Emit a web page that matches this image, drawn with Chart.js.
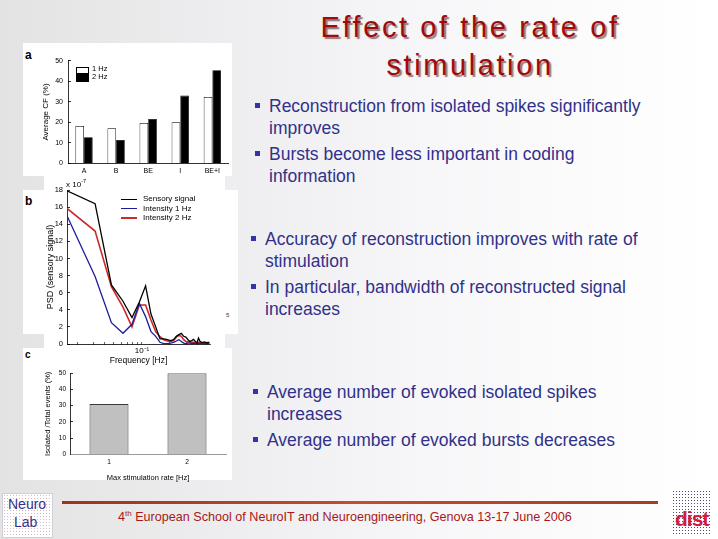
<!DOCTYPE html>
<html>
<head>
<meta charset="utf-8">
<script src="https://cdn.jsdelivr.net/npm/chart.js@4.4.0/dist/chart.umd.min.js"></script>
<style>
  body {
    margin: 0; width: 718px; height: 539px; overflow: hidden; position: relative;
    background: linear-gradient(to right, #e3e3e3 0%, #ededef 30%, #f7f7f9 60%, #ffffff 100%);
    font-family: "Liberation Sans", Arial, sans-serif;
  }
  .box { position: absolute; background: #fff; }
  .txt { position: absolute; white-space: nowrap; }
  canvas { position: absolute; }
  .title {
    position: absolute; left: 240px; top: 8px; width: 460px; text-align: center;
    font-size: 29px; line-height: 38px; letter-spacing: 2.6px; color: #a00a0a;
    text-shadow: 2px 2px 1px rgba(70, 20, 20, 0.55);
  }
  .bullet {
    position: absolute; white-space: nowrap; font-size: 17.5px; line-height: 22px; color: #31318a;
  }
  .bullet::before {
    content: ""; position: absolute; left: -14px; top: 8px; width: 5px; height: 5px; background: #3434a4;
  }
  .lg { position: absolute; font-size: 7.5px; color: #000; white-space: nowrap; }
</style>
</head>
<body>

<!-- white figure panels -->
<div class="box" style="left:23px;top:43px;width:209px;height:133px"></div>
<div class="box" style="left:23px;top:190px;width:215px;height:144px"></div>
<div class="box" style="left:44px;top:175px;width:181px;height:173px"></div>
<div class="box" style="left:23px;top:348px;width:209px;height:132px"></div>

<div class="txt" style="left:25px;top:48px;font-size:12px;font-weight:bold">a</div>
<div class="txt" style="left:25px;top:194px;font-size:12px;font-weight:bold">b</div>
<div class="txt" style="left:25px;top:349px;font-size:10px;font-weight:bold">c</div>

<canvas id="chartA" width="212" height="135" style="left:20px;top:43px"></canvas>
<canvas id="chartB" width="175" height="190" style="left:40px;top:178px"></canvas>
<canvas id="chartC" width="209" height="124" style="left:23px;top:360px"></canvas>

<div class="txt" style="left:66px;top:178px;font-size:8px">x 10<sup style="font-size:5.5px">-7</sup></div>
<div class="txt" style="left:226px;top:312px;font-size:6px;color:#333">5</div>

<div id="legendA"></div>
<div id="legendB"></div>

<!-- title and bullets -->
<div class="title">Effect of the rate of<br>stimulation</div>

<div class="bullet" style="left:269px;top:95px">Reconstruction from isolated spikes significantly<br>improves</div>
<div class="bullet" style="left:269px;top:143px">Bursts become less important in coding<br>information</div>
<div class="bullet" style="left:265px;top:228px">Accuracy of reconstruction improves with rate of<br>stimulation</div>
<div class="bullet" style="left:265px;top:276px">In particular, bandwidth of reconstructed signal<br>increases</div>
<div class="bullet" style="left:267px;top:381px">Average number of evoked isolated spikes<br>increases</div>
<div class="bullet" style="left:267px;top:429px">Average number of evoked bursts decreases</div>

<!-- footer -->
<div style="position:absolute;left:62px;top:501px;width:596px;height:3px;background:linear-gradient(to right,#9c3322,#c44c32,#a83a26)"></div>
<div class="txt" style="left:118px;top:509px;font-size:12.6px;color:#a81818">4<sup style="font-size:8px">th</sup> European School of NeuroIT and Neuroengineering, Genova 13-17 June 2006</div>

<div style="position:absolute;left:2px;top:493px;width:49px;height:43px;border:1px solid #cfcfd8;
  background:#fff radial-gradient(circle, #d9b7c6 0.8px, transparent 1px) 0 0/3px 3px"></div>
<div class="txt" style="left:8px;top:496px;font-size:14px;color:#34348a">Neuro</div>
<div class="txt" style="left:14px;top:514px;font-size:14px;color:#34348a">Lab</div>

<div style="position:absolute;left:672px;top:490px;width:40px;height:44px;
  background:#fff radial-gradient(circle, #4a4a7a 0.7px, transparent 0.9px) 0 0/3px 3px"></div>
<div class="txt" style="left:675px;top:507px;font-size:21px;font-weight:bold;color:#d21c3c;letter-spacing:-1px">dist</div>

<script>
// panel a: average CF per class
const classesA = ["A", "B", "BE", "I", "BE+I"];
const cf1Hz = [18.2, 17.1, 19.7, 20.0, 32.3];
const cf2Hz = [12.7, 11.4, 21.6, 33.0, 45.4];
const ticksA = [0, 10, 20, 30, 40, 50];

// panel b: PSD vs frequency (Hz)
const freqB = [0.0156, 0.0313, 0.0469, 0.0625, 0.0781, 0.0938, 0.1094, 0.125, 0.1406, 0.1563,
  0.1719, 0.1875, 0.2031, 0.2188, 0.2344, 0.25, 0.2656, 0.2813, 0.2969, 0.3125,
  0.3281, 0.3438, 0.3594, 0.375, 0.3906, 0.4063, 0.4219, 0.4375, 0.4531, 0.4688,
  0.4844, 0.5, 0.5156, 0.5313];
const psdSensory = [17.9, 16.4, 6.9, 5.0, 3.1, 4.9, 6.8, 3.5, 2.0, 0.6,
  0.6, 0.5, 0.4, 0.5, 0.9, 1.1, 1.25, 0.9, 0.8, 0.5,
  0.3, 0.4, 0.55, 0.3, 0.15, 0.7, 0.3, 0.2, 0.2, 0.25,
  0.2, 0.15, 0.2, 0.2];
const psd1Hz = [15.0, 7.9, 2.5, 1.25, 2.3, 4.75, 3.2, 1.45, 0.9, 0.2,
  0.05, 0.05, 0.1, 0.2, 0.35, 0.5, 0.3, 0.1, 0.05, 0.1,
  0.1, 0.05, 0.1, 0.05, 0.05, 0.1, 0.05, 0.05, 0.05, 0.1,
  0.05, 0.05, 0.05, 0.05];
const psd2Hz = [15.85, 13.2, 6.7, 4.3, 2.0, 4.55, 4.55, 2.8, 1.45, 0.85,
  0.5, 0.35, 0.3, 0.4, 0.8, 1.0, 0.9, 0.5, 0.3, 0.25,
  0.2, 0.2, 0.2, 0.15, 0.15, 0.2, 0.15, 0.1, 0.15, 0.1,
  0.1, 0.1, 0.1, 0.1];
const ticksBy = [0, 2, 4, 6, 8, 10, 12, 14, 16, 18];
const ticksBx = [0.02, 0.03, 0.04, 0.05, 0.06, 0.07, 0.08, 0.09, 0.1, 0.2, 0.3, 0.4, 0.5];

// panel c: isolated / total events
const ratesC = ["1", "2"];
const isolatedPct = [31, 50];
const ticksC = [0, 10, 20, 30, 40, 50];

Chart.defaults.font.family = "Liberation Sans, Arial, sans-serif";
Chart.defaults.color = "#000";
Chart.defaults.animation = false;
Chart.defaults.responsive = false;
Chart.defaults.plugins.legend.display = false;
Chart.defaults.plugins.tooltip.enabled = false;

const setTicks = (list) => (s) => { s.ticks = list.map(v => ({ value: v })); };
const inwardTicks = { drawOnChartArea: false, drawTicks: true, tickLength: -3, color: "#000", lineWidth: 0.8 };

// --- a ---
new Chart(document.getElementById("chartA"), {
  type: "bar",
  data: {
    labels: classesA,
    datasets: [
      { label: "1 Hz", data: cf1Hz, backgroundColor: "#fff", borderColor: "#000", borderWidth: 0.8 },
      { label: "2 Hz", data: cf2Hz, backgroundColor: "#000", borderColor: "#000", borderWidth: 0.8 },
    ],
  },
  options: {
    layout: { padding: { top: 17.7, right: 3.6, left: 0, bottom: 0 }, autoPadding: false },
    datasets: { bar: { categoryPercentage: 0.54, barPercentage: 1.0 } },
    scales: {
      x: {
        grid: { display: false, drawTicks: false },
        border: { color: "#000", width: 0.8 },
        ticks: { font: { size: 7 }, padding: 4 },
        afterFit: s => { s.height = 14.7; },
      },
      y: {
        min: 0, max: 50,
        afterBuildTicks: setTicks(ticksA),
        grid: inwardTicks,
        border: { color: "#000", width: 0.8 },
        ticks: { font: { size: 7 }, padding: 8 },
        title: { display: true, text: "Average CF (%)", font: { size: 8 }, padding: { top: 21 } },
        afterFit: s => { s.width = 48; },
      },
    },
  },
});

// --- b ---
const colorsB = ["#000000", "#1c1c9c", "#cc2a2a"];
const chartB = new Chart(document.getElementById("chartB"), {
  type: "line",
  data: {
    datasets: [
      { label: "Sensory signal", data: freqB.map((f, i) => ({ x: f, y: psdSensory[i] })) },
      { label: "Intensity 1 Hz", data: freqB.map((f, i) => ({ x: f, y: psd1Hz[i] })) },
      { label: "Intensity 2 Hz", data: freqB.map((f, i) => ({ x: f, y: psd2Hz[i] })) },
    ].map((d, i) => Object.assign(d, {
      borderColor: colorsB[i], borderWidth: i === 2 ? 1.6 : 1.3, pointRadius: 0, tension: 0, fill: false,
    })),
  },
  options: {
    layout: { padding: { top: 12, right: 5, left: 0, bottom: 0 }, autoPadding: false },
    scales: {
      x: {
        type: "logarithmic", min: 0.0156, max: 0.54,
        afterBuildTicks: setTicks(ticksBx),
        grid: { drawOnChartArea: false, drawTicks: true, tickLength: -2, color: "#000", lineWidth: 0.6 },
        border: { color: "#000", width: 0.8 },
        ticks: { font: { size: 8 }, padding: 4, maxRotation: 0, autoSkip: false,
          callback: v => (v === 0.1 ? "10\u207B\u00B9" : "") },
        title: { display: true, text: "Frequency [Hz]", font: { size: 8.5 }, padding: { top: 0, bottom: 2 } },
        afterFit: s => { s.height = 24; },
      },
      y: {
        min: 0, max: 18,
        afterBuildTicks: setTicks(ticksBy),
        grid: inwardTicks,
        border: { color: "#000", width: 0.8 },
        ticks: { font: { size: 7.5 }, padding: 7 },
        title: { display: true, text: "PSD (sensory signal)", font: { size: 9 }, padding: { top: 5 } },
        afterFit: s => { s.width = 27; },
      },
    },
  },
});

// --- c ---
new Chart(document.getElementById("chartC"), {
  type: "bar",
  data: {
    labels: ratesC,
    datasets: [{ label: "Isolated / Total events", data: isolatedPct,
      backgroundColor: "#c0c0c0", borderColor: "#3a3a3a", borderWidth: 1 }],
  },
  options: {
    layout: { padding: { top: 13.3, right: 6, left: 0, bottom: 0 }, autoPadding: false },
    datasets: { bar: { categoryPercentage: 1.0, barPercentage: 0.5 } },
    scales: {
      x: {
        grid: { display: false, drawTicks: false },
        border: { color: "#9a9a9a", width: 1 },
        ticks: { font: { size: 6.5 }, padding: 4 },
        title: { display: true, text: "Max stimulation rate [Hz]", font: { size: 7.5 }, padding: { top: 0, bottom: 2 } },
        afterFit: s => { s.height = 29.7; },
      },
      y: {
        min: 0, max: 50,
        afterBuildTicks: setTicks(ticksC),
        grid: inwardTicks,
        border: { color: "#000", width: 0.8 },
        ticks: { font: { size: 6.5 }, padding: 7 },
        title: { display: true, text: "Isolated /Total events (%)", font: { size: 7.5 }, padding: { top: 20 } },
        afterFit: s => { s.width = 47; },
      },
    },
  },
});

// legends (html, from dataset labels)
const legendA = document.getElementById("legendA");
[["1 Hz", "#fff", 66.5], ["2 Hz", "#000", 74]].forEach(([t, c, y]) => {
  legendA.innerHTML += `<div style="position:absolute;left:76px;top:${y}px;width:11px;height:5.5px;background:${c};border:0.8px solid #000"></div>` +
    `<div class="lg" style="left:92px;top:${y - 2.5}px">${t}</div>`;
});
const legendB = document.getElementById("legendB");
chartB.data.datasets.forEach((d, i) => {
  const y = 199.3 + i * 9.4;
  legendB.innerHTML += `<div style="position:absolute;left:121px;top:${y - 0.7}px;width:16px;height:1.4px;background:${d.borderColor}"></div>` +
    `<div class="lg" style="left:143px;top:${y - 5}px;font-size:8px">${d.label}</div>`;
});
</script>
</body>
</html>
